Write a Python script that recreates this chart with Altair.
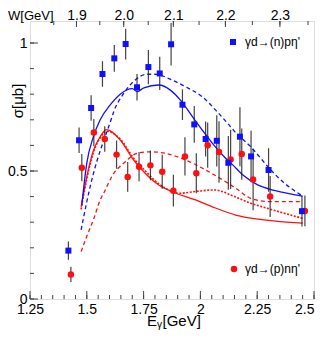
import altair as alt
import pandas as pd
import numpy as np

# ---------------- data ----------------
blue_E = [1.419, 1.466, 1.519, 1.569, 1.621, 1.671, 1.721, 1.771, 1.821, 1.871,
          1.921, 1.973, 2.023, 2.072, 2.123, 2.174, 2.223, 2.300, 2.447]
blue_v = [0.189, 0.620, 0.746, 0.879, 0.940, 0.996, 0.827, 0.906, 0.881, 0.995,
          0.759, 0.682, 0.625, 0.618, 0.532, 0.634, 0.557, 0.504, 0.343]
blue_err = [0.036, 0.050, 0.050, 0.050, 0.052, 0.060, 0.052, 0.067, 0.065, 0.083,
            0.060, 0.072, 0.068, 0.100, 0.105, 0.115, 0.100, 0.085, 0.060]

red_E = [1.430, 1.478, 1.531, 1.579, 1.631, 1.680, 1.730, 1.780, 1.832, 1.881,
         1.932, 1.982, 2.032, 2.082, 2.133, 2.182, 2.232, 2.307, 2.460]
red_v = [0.096, 0.513, 0.650, 0.625, 0.564, 0.477, 0.517, 0.522, 0.497, 0.423,
         0.557, 0.491, 0.601, 0.574, 0.545, 0.566, 0.467, 0.400, 0.344]
red_err = [0.030, 0.053, 0.053, 0.050, 0.055, 0.058, 0.057, 0.058, 0.066, 0.062,
           0.075, 0.078, 0.088, 0.120, 0.115, 0.100, 0.120, 0.080, 0.060]

# model curves
bs_E = [1.478, 1.500, 1.529, 1.559, 1.603, 1.647, 1.700, 1.722, 1.751, 1.817,
        1.868, 1.912, 1.971, 2.008, 2.052, 2.111, 2.141, 2.190, 2.250, 2.330, 2.449]
bs_v = [0.367, 0.531, 0.634, 0.700, 0.758, 0.800, 0.822, 0.810, 0.825, 0.836,
        0.816, 0.777, 0.705, 0.660, 0.609, 0.550, 0.525, 0.482, 0.447, 0.423, 0.402]

bd_E = [1.475, 1.500, 1.515, 1.545, 1.575, 1.603, 1.620, 1.660, 1.706, 1.765,
        1.800, 1.876, 1.935, 2.008, 2.067, 2.119, 2.150, 2.222, 2.310, 2.369, 2.443]
bd_v = [0.270, 0.380, 0.440, 0.540, 0.620, 0.690, 0.735, 0.800, 0.850, 0.878,
        0.878, 0.855, 0.829, 0.790, 0.738, 0.687, 0.655, 0.594, 0.504, 0.453, 0.406]

rs_E = [1.475, 1.500, 1.530, 1.559, 1.586, 1.647, 1.706, 1.758, 1.817, 1.876,
        1.979, 2.053, 2.155, 2.280, 2.450]
rs_v = [0.360, 0.478, 0.582, 0.634, 0.662, 0.621, 0.543, 0.490, 0.445, 0.419,
        0.387, 0.360, 0.328, 0.309, 0.296]

rd_E = [1.475, 1.500, 1.530, 1.559, 1.574, 1.618, 1.662, 1.721, 1.780, 1.846,
        1.935, 2.023, 2.111, 2.160, 2.222, 2.310, 2.450]
rd_v = [0.185, 0.245, 0.312, 0.387, 0.413, 0.490, 0.530, 0.569, 0.575, 0.569,
        0.543, 0.504, 0.458, 0.430, 0.393, 0.380, 0.380]

rdot_E = [1.475, 1.500, 1.530, 1.559, 1.590, 1.647, 1.706, 1.758, 1.817, 1.876,
          1.905, 1.979, 2.060, 2.150, 2.222, 2.296, 2.369, 2.450]
rdot_v = [0.350, 0.470, 0.575, 0.630, 0.655, 0.625, 0.550, 0.500, 0.450, 0.420,
          0.413, 0.420, 0.426, 0.400, 0.374, 0.354, 0.335, 0.315]

# axis ticks
x_major = [1.25, 1.5, 1.75, 2.0, 2.25, 2.5]
x_minor = [round(1.25 + 0.05 * i, 2) for i in range(26)]
y_major = [0.0, 0.5, 1.0]
y_minor = [round(0.1 * i, 1) for i in range(11)]
w_major = [1.9, 2.0, 2.1, 2.2, 2.3]
w_minor = [1.85, 1.9, 1.95, 2.0, 2.05, 2.1, 2.15, 2.2, 2.25, 2.3, 2.35]
MP = 0.938272
def w_to_e(w):
    return (w * w - MP * MP) / (2 * MP)

# ---------------- layout ----------------
W, H = 284, 278
FONT = "Liberation Sans"
xs = alt.Scale(domain=[1.25, 2.5], nice=False, zero=False)
ys = alt.Scale(domain=[0, H / 256.0], nice=False, zero=True)

BLUE = "#1010ff"
RED = "#ff1010"

def xq(f, axis=None):
    return alt.X(f + ":Q", scale=xs, axis=axis)

def yq(f, axis=None):
    return alt.Y(f + ":Q", scale=ys, axis=axis)

blue_df = pd.DataFrame({"E": blue_E, "v": blue_v,
                        "lo": np.array(blue_v) - np.array(blue_err),
                        "hi": np.array(blue_v) + np.array(blue_err)})
red_df = pd.DataFrame({"E": red_E, "v": red_v,
                       "lo": np.array(red_v) - np.array(red_err),
                       "hi": np.array(red_v) + np.array(red_err)})

def curve(E, v, color, dash, sw=1.3):
    df = pd.DataFrame({"E": E, "v": v})
    kw = dict(color=color, strokeWidth=sw, interpolate="monotone")
    if dash:
        kw["strokeDash"] = dash
    return alt.Chart(df).mark_line(**kw).encode(x=xq("E"), y=yq("v"))

bottom_axis = alt.Axis(values=x_major, labelExpr="'' + datum.value", labelFontSize=14,
                       labelFont=FONT, labelColor="black", labelPadding=3, ticks=False,
                       domain=False, grid=False, title=None, labelFlush=False,
                       labelOverlap=False, labelBound=False, orient="bottom",
                       labelAlign=alt.condition("datum.value >= 2.5", alt.value("right"),
                                                alt.value("center")))
left_axis = alt.Axis(values=y_major, labelExpr="'' + datum.value", labelFontSize=14,
                     labelFont=FONT, labelColor="black", labelPadding=3, ticks=False,
                     domain=False, grid=False, title=None, orient="left",
                     labelFlush=False, labelOverlap=False)
top_axis = alt.Axis(values=[w_to_e(w) for w in w_major], orient="top",
                    labelExpr="format(sqrt(%f + %f*datum.value), '.1f')" % (MP * MP, 2 * MP),
                    labelFontSize=14, labelFont=FONT, labelColor="black", labelPadding=2,
                    labelBaseline="alphabetic",
                    ticks=False, domain=False, grid=False, title=None,
                    labelFlush=False, labelOverlap=False)

tick_color = "#444"
xmaj_df = pd.DataFrame({"t": x_major})
xmin_df = pd.DataFrame({"t": x_minor})
ymaj_df = pd.DataFrame({"t": y_major})
ymin_df = pd.DataFrame({"t": y_minor})
wmaj_df = pd.DataFrame({"t": [w_to_e(w) for w in w_major]})
wmin_df = pd.DataFrame({"t": [w_to_e(w) for w in w_minor]})

layers = [
    # bottom axis labels + ticks
    alt.Chart(xmaj_df).mark_rule(color=tick_color, strokeWidth=1).encode(
        x=xq("t", bottom_axis), y=alt.value(H), y2=alt.value(H - 8)),
    alt.Chart(xmin_df).mark_rule(color=tick_color, strokeWidth=1).encode(
        x=xq("t"), y=alt.value(H), y2=alt.value(H - 4)),
    # left axis
    alt.Chart(ymaj_df).mark_rule(color=tick_color, strokeWidth=1).encode(
        y=yq("t", left_axis), x=alt.value(0), x2=alt.value(8)),
    alt.Chart(ymin_df).mark_rule(color=tick_color, strokeWidth=1).encode(
        y=yq("t"), x=alt.value(0), x2=alt.value(4)),
    # top axis
    alt.Chart(wmaj_df).mark_rule(color=tick_color, strokeWidth=1).encode(
        x=xq("t", top_axis), y=alt.value(0), y2=alt.value(6)),
    alt.Chart(wmin_df).mark_rule(color=tick_color, strokeWidth=1).encode(
        x=xq("t"), y=alt.value(0), y2=alt.value(4)),
    # curves
    curve(rd_E, rd_v, RED, [4, 3]),
    curve(rdot_E, rdot_v, RED, [2, 1.5], sw=1.6),
    curve(rs_E, rs_v, RED, None),
    curve(bd_E, bd_v, BLUE, [4, 3]),
    curve(bs_E, bs_v, BLUE, None),
    # error bars
    alt.Chart(red_df).mark_rule(color="#222", strokeWidth=1.2, opacity=0.85).encode(
        x=xq("E"), y=yq("lo"), y2="hi:Q"),
    alt.Chart(blue_df).mark_rule(color="#222", strokeWidth=1.2, opacity=0.85).encode(
        x=xq("E"), y=yq("lo"), y2="hi:Q"),
    # points
    alt.Chart(red_df).mark_circle(color=RED, size=42, opacity=1).encode(
        x=xq("E"), y=yq("v")),
    alt.Chart(blue_df).mark_square(color=BLUE, size=36, opacity=1).encode(
        x=xq("E"), y=yq("v")),
]

# legend + titles (layout text)
one = pd.DataFrame({"a": [0]})
layers += [
    alt.Chart(one).mark_square(color=BLUE, size=36, opacity=1).encode(
        x=alt.value(203), y=alt.value(21)),
    alt.Chart(one).mark_text(text="γd→(n)pη'", font=FONT, fontSize=12, align="left",
                             baseline="middle", color="black").encode(
        x=alt.value(215), y=alt.value(21)),
    alt.Chart(one).mark_circle(color=RED, size=42, opacity=1).encode(
        x=alt.value(204), y=alt.value(248)),
    alt.Chart(one).mark_text(text="γd→(p)nη'", font=FONT, fontSize=12, align="left",
                             baseline="middle", color="black").encode(
        x=alt.value(215), y=alt.value(248)),
    alt.Chart(one).mark_text(text="σ[μb]", font=FONT, fontSize=15, angle=270,
                             align="center", baseline="middle", color="black").encode(
        x=alt.value(-12), y=alt.value(80)),
    alt.Chart(one).mark_text(text="E", font=FONT, fontSize=15, align="left",
                             baseline="alphabetic", color="black").encode(
        x=alt.value(117), y=alt.value(H + 27)),
    alt.Chart(one).mark_text(text="γ", font=FONT, fontSize=10, align="left",
                             baseline="alphabetic", color="black").encode(
        x=alt.value(127), y=alt.value(H + 29)),
    alt.Chart(one).mark_text(text="[GeV]", font=FONT, fontSize=15, align="left",
                             baseline="alphabetic", color="black").encode(
        x=alt.value(132.5), y=alt.value(H + 27)),
    alt.Chart(one).mark_text(text="W[GeV]", font=FONT, fontSize=13, align="left",
                             baseline="alphabetic", color="black").encode(
        x=alt.value(-22), y=alt.value(-1.5)),
]

chart = alt.layer(*layers).resolve_axis(x="independent", y="independent").properties(
    width=W, height=H,
    padding={"left": 22, "top": 13, "right": 4, "bottom": 31},
    autosize=alt.AutoSizeParams(type="none"),
).configure_view(stroke="#888888", strokeWidth=2).configure(background="white")

chart.save("out.html", embed_options={"renderer": "svg", "actions": False})
